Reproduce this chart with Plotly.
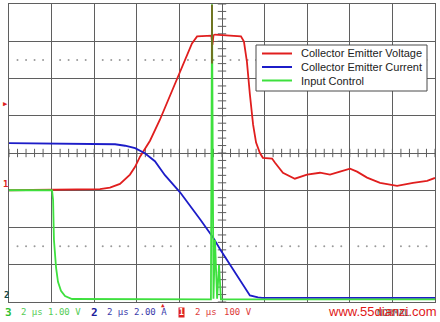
import numpy as np
import plotly.graph_objects as go

# ---- data (time in microseconds, 2 us/div, 10 divisions) ----
v_time = [0.0, 2.02, 3.33, 4.27, 4.74, 5.21, 5.68, 5.92, 6.15, 6.62, 7.09, 7.70, 8.26, 8.59, 8.83,
          9.20, 9.50, 9.55, 9.60, 9.67, 10.38, 10.89, 11.03, 11.17, 11.31, 11.46, 11.60, 11.78,
          11.92, 12.35, 12.49, 12.86, 13.42, 13.99, 14.60, 15.07, 15.54, 16.01, 16.34, 16.81,
          17.42, 18.22, 18.97, 19.63, 20.0]
v_volts = [0, 1, 1, 3, 7, 17, 42, 63, 90, 133, 190, 275, 351, 394, 413,
           415, 415, 390, 416, 418, 415, 413, 399, 345, 257, 176, 128, 100,
           87, 85, 74, 47, 31, 42, 47, 42, 50, 58, 50, 34,
           20, 12, 20, 25, 33]

i_time = [0.0, 2.0, 4.27, 4.98, 5.45, 5.92, 6.38, 6.85, 7.32, 8.03, 8.97, 9.58, 9.91, 10.52,
          11.08, 11.31, 11.69, 11.88, 20.0]
i_amps = [8.31, 8.30, 8.28, 8.25, 8.17, 8.04, 7.77, 7.34, 6.59, 5.67, 4.22, 3.25, 2.61, 1.53,
          0.51, 0.13, 0.03, 0.0, 0.0]

c_time = [0.0, 2.02, 2.07, 2.11, 2.21, 2.30, 2.44, 2.63, 2.96, 9.48, 9.53, 9.60, 9.67, 9.77,
          9.86, 9.95, 20.0]
c_volts = [2.93, 2.93, 2.67, 1.60, 0.85, 0.47, 0.23, 0.09, 0.01, 0.0, 7.92, 0.02, 1.60, 0.02,
           0.93, 0.0, 0.0]

# overlay artefact at the switching instant (screen divisions)
art_time = [9.53, 9.53]
art_div = [3.98, 2.40]

series_names = ["Collector Emitter Voltage", "Collector Emitter Current", "Input Control"]

# channel settings (scale per division, ground position in divisions)
V_SCALE, V_GND = 100.0, -1.0
I_SCALE, I_GND = 2.0, -3.89
C_SCALE, C_GND = 1.0, -3.93

RED, BLUE, GREEN = "#e01e1e", "#1c1cc8", "#3ee03e"
GRID = "#5f5f5f"

def to_div(vals, scale, gnd):
    return [v / scale + gnd for v in vals]

fig = go.Figure()

# dotted guide rows and centre-line ticks
dot_x = [x for x in np.arange(0, 20.01, 0.4) if abs(x / 2 - round(x / 2)) > 1e-6]
for yy in (2.5, -2.5):
    fig.add_trace(go.Scatter(x=dot_x, y=[yy] * len(dot_x), mode="markers",
                             marker=dict(size=2, color="#9a9a9a"), showlegend=False,
                             hoverinfo="skip"))
tick_x = [x for x in np.arange(0, 20.01, 0.4)]
fig.add_trace(go.Scatter(x=tick_x, y=[0] * len(tick_x), mode="markers",
                         marker=dict(symbol="line-ns", size=6, line=dict(width=1, color=GRID)),
                         showlegend=False, hoverinfo="skip"))
tick_y = list(np.arange(-4, 4.01, 0.2))
fig.add_trace(go.Scatter(x=[10] * len(tick_y), y=tick_y, mode="markers",
                         marker=dict(symbol="line-ew", size=6, line=dict(width=1, color=GRID)),
                         showlegend=False, hoverinfo="skip"))

fig.add_trace(go.Scatter(x=v_time, y=to_div(v_volts, V_SCALE, V_GND), mode="lines",
                         line=dict(color=RED, width=1.8), name=series_names[0], showlegend=False))
fig.add_trace(go.Scatter(x=i_time, y=to_div(i_amps, I_SCALE, I_GND), mode="lines",
                         line=dict(color=BLUE, width=1.8), name=series_names[1], showlegend=False))
fig.add_trace(go.Scatter(x=c_time, y=to_div(c_volts, C_SCALE, C_GND), mode="lines",
                         line=dict(color=GREEN, width=1.8), name=series_names[2], showlegend=False))
fig.add_trace(go.Scatter(x=art_time, y=art_div, mode="lines",
                         line=dict(color="#7a5a1a", width=1.6), showlegend=False))

W, H = 440, 322
L, R, T, B = 9, 5, 4, 20

def px(x):
    return (x - L) / (W - L - R)

def py(y):
    return (H - B - y) / (H - T - B)

ann = []
def txt(x, y, s, color, size=9, family="DejaVu Sans Mono", xanchor="left", bold=False, **kw):
    if bold:
        s = "<b>" + s + "</b>"
    ann.append(dict(x=px(x), y=py(y), xref="paper", yref="paper", text=s, showarrow=False,
                    xanchor=xanchor, yanchor="middle", font=dict(size=size, color=color, family=family), **kw))

# bottom status line
txt(3, 312, "3", "#2fbf2f", size=11, bold=True)
txt(19, 312, "2 μs 1.00 V", "#55cc55", size=9)
txt(89, 312, "2", "#1c1c9c", size=11, bold=True)
txt(105, 312, "2 μs 2.00 A", "#3a3aaa", size=9)
txt(178, 312, "1", "white", size=8, bold=True, bgcolor="#dd2222", borderpad=0)
txt(193, 312, "2 μs", "#dd3a3a", size=9)
txt(222, 312, "100 V", "#dd3a3a", size=9)
txt(163, 304, "▲", "#dd2222", size=6, xanchor="center")
txt(375, 313, "NORMAL", "#555555", size=9)
txt(326, 311, "www.55dianzi.com", "#e01818", size=13, family="Liberation Sans")
# left channel markers
txt(1, 104, "▶", "#dd2222", size=7)
txt(1, 184, "1", "#dd2222", size=9, bold=True)
txt(2, 295, "2", "#134a4a", size=9, bold=True)

# legend box drawn by hand (compact row spacing as in the reference)
shapes = [dict(type="rect", xref="paper", yref="paper", x0=px(256), x1=px(427), y0=py(91), y1=py(45),
               line=dict(color="#4a4a4a", width=1), fillcolor="white", layer="above")]
for k, (nm, col) in enumerate(zip(series_names, [RED, BLUE, GREEN])):
    yy = 53.5 + 13.5 * k
    shapes.append(dict(type="line", xref="paper", yref="paper", x0=px(262), x1=px(292),
                       y0=py(yy), y1=py(yy), line=dict(color=col, width=2), layer="above"))
    txt(299, yy, nm, "#222222", size=11, family="Liberation Sans")

fig.update_layout(
    width=W, height=H, margin=dict(l=L, r=R, t=T, b=B),
    paper_bgcolor="white", plot_bgcolor="white",
    annotations=ann, shapes=shapes,
    xaxis=dict(range=[0, 20], dtick=2, showgrid=True, gridcolor=GRID, gridwidth=1,
               zeroline=False, showticklabels=False, ticks="", showline=True,
               linecolor=GRID, mirror=True, fixedrange=True),
    yaxis=dict(range=[-4, 4], dtick=1, showgrid=True, gridcolor=GRID, gridwidth=1,
               zeroline=False, showticklabels=False, ticks="", showline=True,
               linecolor=GRID, mirror=True, fixedrange=True),
    showlegend=False,
)

fig.write_html("out.html", config={"displayModeBar": False},
               post_script="document.body.style.margin='0';")
